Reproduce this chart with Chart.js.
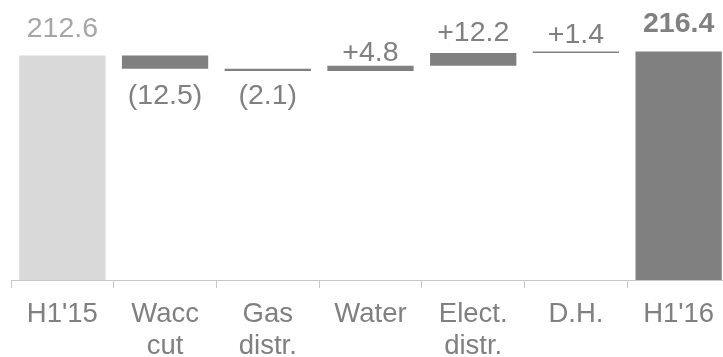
<!DOCTYPE html>
<html>
<head>
<meta charset="utf-8">
<script src="https://cdn.jsdelivr.net/npm/chart.js@4/dist/chart.umd.min.js"></script>
<style>
  html, body { margin: 0; padding: 0; background: #ffffff; overflow: hidden; }
  #wrap { width: 730px; height: 357px; }
</style>
</head>
<body>
<div id="wrap"><canvas id="chart" width="730" height="357"></canvas></div>
<script>
// Bridge H1'15 -> H1'16
const categories = ["H1'15", ["Wacc", "cut"], ["Gas", "distr."], "Water", ["Elect.", "distr."], "D.H.", "H1'16"];
const openingTotal = 212.6;
const deltas = [-12.5, -2.1, 4.8, 12.2, 1.4];
const closingTotal = 216.4;

// Label placement: distance (px) from the bar edge to the label baseline
const labelGap = [18, 35, 33, 5, 12, 8, 19];

// Build floating bars [start, end] for the waterfall
const bars = [[0, openingTotal]];
const labels = [openingTotal.toFixed(1)];
let running = openingTotal;
deltas.forEach(d => {
  const next = Math.round((running + d) * 10) / 10;
  bars.push([running, next]);
  labels.push(d < 0 ? '(' + Math.abs(d).toFixed(1) + ')' : '+' + d.toFixed(1));
  running = next;
});
bars.push([0, closingTotal]);
labels.push(closingTotal.toFixed(1));

const barColors = ['#d9d9d9', '#808080', '#808080', '#808080', '#808080', '#808080', '#808080'];
const labelColors = ['#a6a6a6', '#808080', '#808080', '#808080', '#808080', '#808080', '#808080'];

const FONT = '"Liberation Sans", Arial, sans-serif';

const valueLabels = {
  id: 'valueLabels',
  afterDatasetsDraw(chart) {
    const ctx = chart.ctx;
    const meta = chart.getDatasetMeta(0);
    ctx.save();
    ctx.textAlign = 'center';
    ctx.textBaseline = 'alphabetic';
    meta.data.forEach((el, i) => {
      const top = Math.min(el.y, el.base);
      const bottom = Math.max(el.y, el.base);
      const isLast = i === meta.data.length - 1;
      const isDrop = i > 0 && !isLast && deltas[i - 1] < 0;
      ctx.font = (isLast ? 'bold ' : '') + '28.5px ' + FONT;
      ctx.fillStyle = labelColors[i];
      const y = isDrop ? bottom + labelGap[i] : top - labelGap[i];
      ctx.fillText(labels[i], el.x, y);
    });
    ctx.restore();
  }
};

new Chart(document.getElementById('chart'), {
  type: 'bar',
  data: {
    labels: categories,
    datasets: [{
      data: bars,
      backgroundColor: barColors,
      borderWidth: 0,
      barPercentage: 0.84,
      categoryPercentage: 1.0
    }]
  },
  options: {
    responsive: false,
    animation: false,
    layout: { padding: { left: 11, right: 0, top: 16, bottom: 0 } },
    plugins: {
      legend: { display: false },
      tooltip: { enabled: false }
    },
    scales: {
      x: {
        grid: {
          display: true,
          drawOnChartArea: false,
          drawTicks: true,
          tickLength: 8,
          tickColor: '#c8c8c8',
          color: '#c8c8c8',
          offset: true
        },
        border: { display: true, color: '#c8c8c8', width: 1 },
        ticks: {
          color: '#808080',
          font: { family: FONT, size: 27.5, lineHeight: 1.18 },
          padding: 10,
          maxRotation: 0,
          autoSkip: false
        },
        afterFit(scale) { scale.height = 77; }
      },
      y: {
        display: false,
        min: 0,
        max: 250
      }
    }
  },
  plugins: [valueLabels]
});
</script>
</body>
</html>
